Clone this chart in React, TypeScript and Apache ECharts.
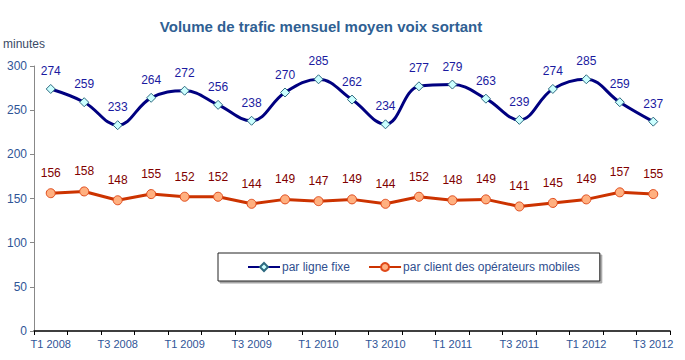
import React, { useEffect, useRef } from "react";
import * as echarts from "echarts";

const categories = [
  "T1 2008", "T2 2008", "T3 2008", "T4 2008",
  "T1 2009", "T2 2009", "T3 2009", "T4 2009",
  "T1 2010", "T2 2010", "T3 2010", "T4 2010",
  "T1 2011", "T2 2011", "T3 2011", "T4 2011",
  "T1 2012", "T2 2012", "T3 2012",
];
const ligneFixe = [274, 259, 233, 264, 272, 256, 238, 270, 285, 262, 234, 277, 279, 263, 239, 274, 285, 259, 237];
const mobiles = [156, 158, 148, 155, 152, 152, 144, 149, 147, 149, 144, 152, 148, 149, 141, 145, 149, 157, 155];
const yTicks = { min: 0, max: 300, interval: 50 };

const FONT = "'Liberation Sans', Arial, sans-serif";

export default function App() {
  const ref = useRef<HTMLDivElement>(null);
  useEffect(() => {
    if (!ref.current) return;
    const chart = echarts.init(ref.current, null, { renderer: "svg" });
    chart.setOption({
      animation: false,
      textStyle: { fontFamily: FONT },
      title: {
        text: "Volume de trafic mensuel moyen voix sortant",
        left: 316,
        textAlign: "center",
        top: 14,
        textStyle: { fontFamily: FONT, fontSize: 15, fontWeight: "bold", color: "#2f5f93" },
      },
      graphic: [
        {
          type: "text",
          left: 3,
          top: 38,
          style: { text: "minutes", fontFamily: FONT, fontSize: 12, fill: "#3a4a66" },
        },
      ],
      legend: {
        orient: "horizontal",
        left: 218,
        top: 253,
        padding: [8, 20, 8, 29],
        itemGap: 18,
        itemWidth: 32,
        itemHeight: 10,
        borderColor: "#222",
        borderWidth: 1,
        backgroundColor: "#fff",
        shadowColor: "rgba(0,0,0,0.35)",
        shadowOffsetX: 2,
        shadowOffsetY: 2,
        shadowBlur: 0,
        textStyle: { fontFamily: FONT, fontSize: 12, color: "#2f4f8f", padding: [0, 0, 0, -3] },
        data: ["par ligne fixe", "par client des opérateurs mobiles"],
      },
      grid: { left: 34, right: 15, top: 66, bottom: 29, containLabel: false },
      xAxis: {
        type: "category",
        data: categories,
        boundaryGap: true,
        axisLine: { lineStyle: { color: "#000", width: 1.5 } },
        axisTick: { show: true, alignWithLabel: false, interval: 0, length: 4, lineStyle: { color: "#000" } },
        axisLabel: {
          interval: 1,
          color: "#2f5597",
          fontFamily: FONT,
          fontSize: 11,
          margin: 7,
        },
      },
      yAxis: {
        type: "value",
        min: yTicks.min,
        max: yTicks.max,
        interval: yTicks.interval,
        axisLine: { show: true, lineStyle: { color: "#888" } },
        axisTick: { show: true, length: 4, lineStyle: { color: "#888" } },
        splitLine: { show: false },
        axisLabel: { color: "#2f5597", fontFamily: FONT, fontSize: 12, margin: 7 },
      },
      series: [
        {
          name: "par ligne fixe",
          type: "line",
          data: ligneFixe,
          smooth: 0.4,
          symbol: "diamond",
          symbolSize: 9,
          lineStyle: { color: "#000080", width: 3 },
          itemStyle: { color: "#ccffff", borderColor: "#2e6a80", borderWidth: 1 },
          label: {
            show: true,
            position: "top",
            distance: 7,
            color: "#1a1aa0",
            fontFamily: FONT,
            fontSize: 12,
          },
          z: 3,
        },
        {
          name: "par client des opérateurs mobiles",
          type: "line",
          data: mobiles,
          smooth: false,
          symbol: "circle",
          symbolSize: 9,
          lineStyle: { color: "#cc3300", width: 3 },
          itemStyle: { color: "#ffb080", borderColor: "#e04a1a", borderWidth: 1 },
          label: {
            show: true,
            position: "top",
            distance: 9,
            color: "#800000",
            fontFamily: FONT,
            fontSize: 12,
          },
          z: 2,
        },
      ],
    });
    return () => chart.dispose();
  }, []);
  return <div ref={ref} style={{ width: 685, height: 360, position: "absolute", left: 0, top: 0 }} />;
}
